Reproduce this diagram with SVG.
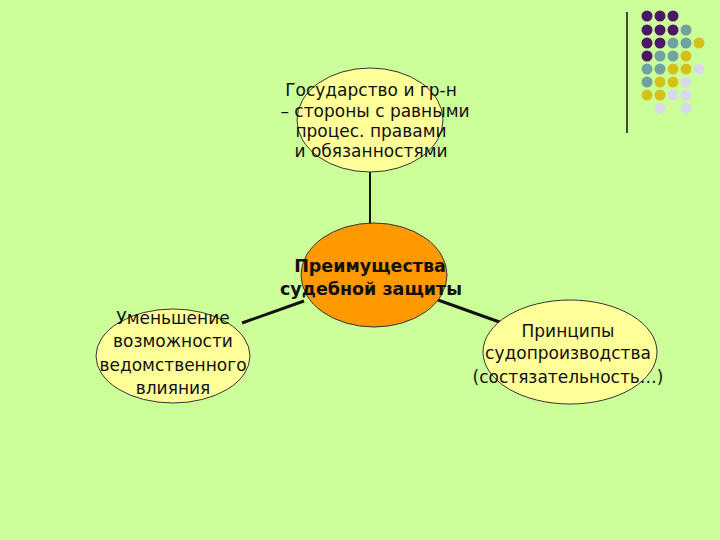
<svg xmlns="http://www.w3.org/2000/svg" width="720" height="540" viewBox="0 0 720 540">
<style>
.bg{fill:#ccff99}
.node{stroke:#333;stroke-width:1}
.yel{fill:#ffff99}
.org{fill:#ff9900}
.t{font-family:"DejaVu Sans",Verdana,sans-serif;font-size:17px;fill:#111;text-anchor:middle}
.b{font-weight:bold;font-size:17.5px}
.con line{stroke:#111;stroke-width:3}
.p{fill:#4b1868}.g{fill:#6fa3a0}.y{fill:#d4c21a}.l{fill:#d9d9ec}
</style>
<rect class="bg" width="720" height="540"/>
<g id="decor">
<line x1="627" y1="12" x2="627" y2="133" stroke="#111" stroke-width="1.5"/>
<circle class="p" cx="647" cy="16" r="5.5"/><circle class="p" cx="660" cy="16" r="5.5"/><circle class="p" cx="673" cy="16" r="5.5"/>
<circle class="p" cx="647" cy="30" r="5.5"/><circle class="p" cx="660" cy="30" r="5.5"/><circle class="p" cx="673" cy="30" r="5.5"/><circle class="g" cx="686" cy="30" r="5.5"/>
<circle class="p" cx="647" cy="43" r="5.5"/><circle class="p" cx="660" cy="43" r="5.5"/><circle class="g" cx="673" cy="43" r="5.5"/><circle class="g" cx="686" cy="43" r="5.5"/><circle class="y" cx="699" cy="43" r="5.5"/>
<circle class="p" cx="647" cy="56" r="5.5"/><circle class="g" cx="660" cy="56" r="5.5"/><circle class="g" cx="673" cy="56" r="5.5"/><circle class="y" cx="686" cy="56" r="5.5"/>
<circle class="g" cx="647" cy="69" r="5.5"/><circle class="g" cx="660" cy="69" r="5.5"/><circle class="y" cx="673" cy="69" r="5.5"/><circle class="y" cx="686" cy="69" r="5.5"/><circle class="l" cx="699" cy="69" r="5.5"/>
<circle class="g" cx="647" cy="82" r="5.5"/><circle class="y" cx="660" cy="82" r="5.5"/><circle class="y" cx="673" cy="82" r="5.5"/><circle class="l" cx="686" cy="82" r="5.5"/>
<circle class="y" cx="647" cy="95" r="5.5"/><circle class="y" cx="660" cy="95" r="5.5"/><circle class="l" cx="673" cy="95" r="5.5"/><circle class="l" cx="686" cy="95" r="5.5"/>
<circle class="l" cx="660" cy="108" r="5.5"/><circle class="l" cx="686" cy="108" r="5.5"/>
</g>
<g id="connectors" class="con">
<line x1="370" y1="172" x2="370" y2="224" style="stroke-width:2"/>
<line x1="242" y1="323" x2="304" y2="301"/>
<line x1="438" y1="300" x2="505" y2="324"/>
</g>
<g id="top">
<ellipse class="node yel" cx="370" cy="120" rx="73" ry="52"/>
<text class="t" x="371" y="96">Государство и гр-н</text>
<text class="t" x="375" y="117">– стороны с равными</text>
<text class="t" x="371" y="137">процес. правами</text>
<text class="t" x="371" y="157">и обязанностями</text>
</g>
<g id="center">
<ellipse class="node org" cx="374" cy="275" rx="73" ry="52"/>
<text class="t b" x="370" y="272">Преимущества</text>
<text class="t b" x="371" y="295">судебной защиты</text>
</g>
<g id="left">
<ellipse class="node yel" cx="173" cy="356" rx="77" ry="47"/>
<text class="t" x="173" y="324">Уменьшение</text>
<text class="t" x="173" y="347">возможности</text>
<text class="t" x="173" y="371">ведомственного</text>
<text class="t" x="173" y="394">влияния</text>
</g>
<g id="right">
<ellipse class="node yel" cx="570" cy="352" rx="87" ry="52"/>
<text class="t" x="568" y="337">Принципы</text>
<text class="t" x="568" y="359">судопроизводства</text>
<text class="t" x="568" y="383">(состязательность…)</text>
</g>
</svg>
